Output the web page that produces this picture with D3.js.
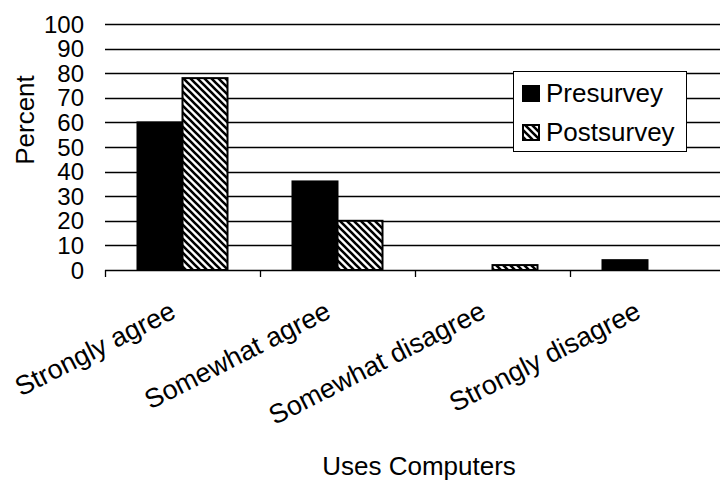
<!DOCTYPE html>
<html>
<head>
<meta charset="utf-8">
<script src="https://cdn.jsdelivr.net/npm/d3@7"></script>
<style>
  html, body { margin: 0; padding: 0; background: #fff; }
  svg { display: block; font-family: "Liberation Sans", Arial, sans-serif; }
</style>
</head>
<body>
<svg id="chart" width="720" height="482"></svg>
<script>
const categories = ["Strongly agree", "Somewhat agree", "Somewhat disagree", "Strongly disagree"];
const seriesNames = ["Presurvey", "Postsurvey"];
const presurvey = [60, 36, 0, 4];
const postsurvey = [78, 20, 2, 0];
const yTicks = [0, 10, 20, 30, 40, 50, 60, 70, 80, 90, 100];
const xTitle = "Uses Computers";
const yTitle = "Percent";

(function () {
const svg = d3.select("#chart");
const W = 720;
const mLeft = 105, mRight = 725, mTop = 24, mBottom = 270;

// pattern
const defs = svg.append("defs");
const pat = defs.append("pattern")
  .attr("id", "hatch").attr("patternUnits", "userSpaceOnUse")
  .attr("width", 7).attr("height", 7);
pat.append("rect").attr("width", 7).attr("height", 7).attr("fill", "#fff");
pat.append("path")
  .attr("d", "M-1,-1 L8,8 M-8,-1 L1,8 M6,-1 L15,8")
  .attr("stroke", "#000").attr("stroke-width", 2.6);

const x = d3.scaleBand().domain(categories).range([mLeft, mRight]).paddingInner(0).paddingOuter(0);
const xs = d3.scaleBand().domain(seriesNames).range([0, x.bandwidth()]).paddingInner(0).paddingOuter(0.722);
const y = d3.scaleLinear().domain([0, 100]).range([mBottom, mTop]);

// gridlines
svg.append("g").selectAll("line").data(yTicks).join("line")
  .attr("x1", mLeft).attr("x2", W)
  .attr("y1", d => Math.round(y(d)) + 0.5).attr("y2", d => Math.round(y(d)) + 0.5)
  .attr("stroke", "#000").attr("stroke-width", 1.3);

// y tick labels
svg.append("g").selectAll("text").data(yTicks).join("text")
  .attr("x", 84).attr("y", d => y(d))
  .attr("dy", "0.36em")
  .attr("text-anchor", "end")
  .attr("font-size", 24)
  .text(d => d);

// x ticks at band boundaries
const bounds = categories.map(c => x(c));
svg.append("g").selectAll("line").data(bounds).join("line")
  .attr("x1", d => Math.round(d) + 0.5).attr("x2", d => Math.round(d) + 0.5)
  .attr("y1", mBottom).attr("y2", mBottom + 7)
  .attr("stroke", "#000").attr("stroke-width", 1.3);

// bars
const data = [];
categories.forEach((c, i) => {
  data.push({ c, s: "Presurvey", v: presurvey[i] });
  data.push({ c, s: "Postsurvey", v: postsurvey[i] });
});
svg.append("g").selectAll("rect").data(data.filter(d => d.v > 0)).join("rect")
  .attr("x", d => x(d.c) + xs(d.s))
  .attr("width", xs.bandwidth())
  .attr("y", d => y(d.v))
  .attr("height", d => y(0) - y(d.v))
  .attr("fill", d => d.s === "Presurvey" ? "#000" : "url(#hatch)")
  .attr("stroke", "#000")
  .attr("stroke-width", 2);

// x labels
svg.append("g").selectAll("text").data(categories).join("text")
  .attr("transform", d => `translate(${x(d) + x.bandwidth() / 2 - 5},${mBottom + 47}) rotate(-27)`)
  .attr("text-anchor", "end")
  .attr("font-size", 27)
  .text(d => d);

// axis titles
svg.append("text")
  .attr("x", 419).attr("y", 475)
  .attr("text-anchor", "middle").attr("font-size", 26)
  .text(xTitle);
svg.append("text")
  .attr("transform", "translate(34,120) rotate(-90)")
  .attr("text-anchor", "middle").attr("font-size", 26)
  .text(yTitle);

// legend
const lg = svg.append("g").attr("transform", "translate(513,71)");
lg.append("rect").attr("x", 0.5).attr("y", 0.5).attr("width", 173).attr("height", 80)
  .attr("fill", "#fff").attr("stroke", "#000").attr("stroke-width", 1);
seriesNames.forEach((s, i) => {
  const gy = 15 + i * 39;
  lg.append("rect").attr("x", 10).attr("y", gy).attr("width", 16).attr("height", 15)
    .attr("fill", s === "Presurvey" ? "#000" : "url(#hatch)")
    .attr("stroke", "#000").attr("stroke-width", 2);
  lg.append("text").attr("x", 33).attr("y", gy + 16)
    .attr("font-size", 26).text(s);
});
})();
</script>
</body>
</html>
